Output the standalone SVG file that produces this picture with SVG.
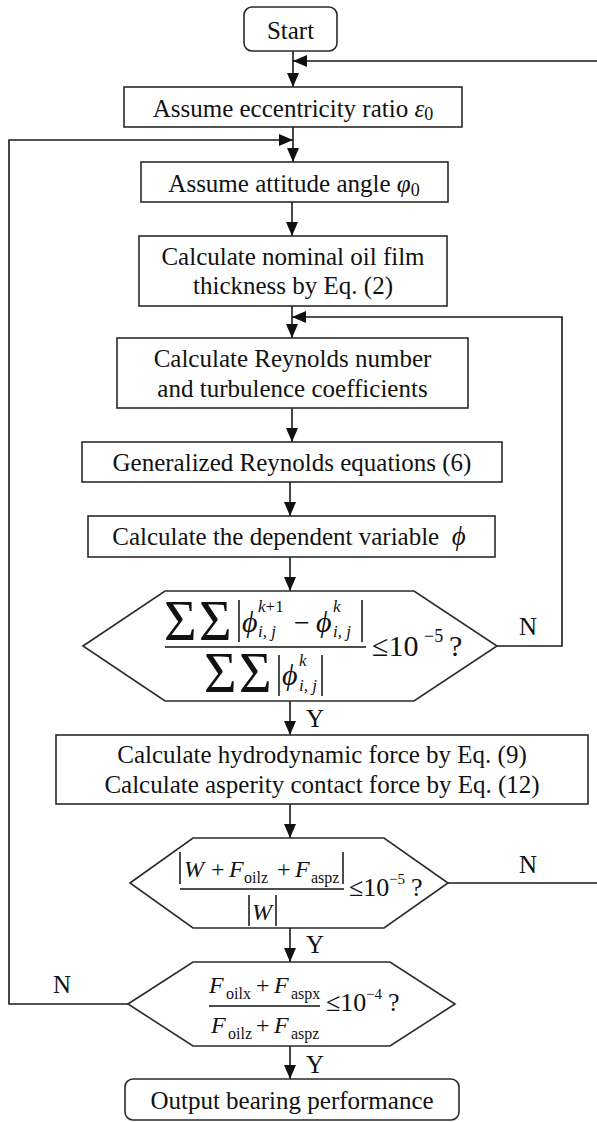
<svg xmlns="http://www.w3.org/2000/svg" width="597" height="1122" viewBox="0 0 597 1122">
<defs>
<marker id="arr" viewBox="0 0 14 12" refX="14" refY="6" markerWidth="14" markerHeight="12" orient="auto" markerUnits="userSpaceOnUse">
<path d="M0,0 L14,6 L0,12 z" fill="#111"/>
</marker>
</defs>
<style>
.box{fill:#fff;stroke:#2a2a2a;stroke-width:1.6}
.t{font-family:"Liberation Serif","Times New Roman",serif;font-size:25px;fill:#111}
.c{text-anchor:middle}
.i{font-style:italic}
.m{font-family:"Liberation Serif","Times New Roman",serif;fill:#111}
.ln{fill:none;stroke:#1a1a1a;stroke-width:1.6}
.bar{stroke:#111;stroke-width:1.5}
</style>
<rect width="597" height="1122" fill="#fff"/>

<g id="connectors">
<path class="ln" d="M293,51 V87" marker-end="url(#arr)"/>
<path class="ln" d="M448,883 H600 V61 H293" marker-end="url(#arr)"/>
<path class="ln" d="M293,127 V162" marker-end="url(#arr)"/>
<path class="ln" d="M128,1004 H9 V140 H293" marker-end="url(#arr)"/>
<path class="ln" d="M292,202 V236" marker-end="url(#arr)"/>
<path class="ln" d="M292,306 V338" marker-end="url(#arr)"/>
<path class="ln" d="M497,646 H562 V317 H292" marker-end="url(#arr)"/>
<path class="ln" d="M292,408 V442" marker-end="url(#arr)"/>
<path class="ln" d="M290,482 V516" marker-end="url(#arr)"/>
<path class="ln" d="M290,557 V591" marker-end="url(#arr)"/>
<path class="ln" d="M290,701 V735" marker-end="url(#arr)"/>
<path class="ln" d="M290,804 V838" marker-end="url(#arr)"/>
<path class="ln" d="M290,928 V962" marker-end="url(#arr)"/>
<path class="ln" d="M290,1046 V1079" marker-end="url(#arr)"/>
<text class="t" x="528" y="635" text-anchor="middle" font-size="24">N</text>
<text class="t" x="528" y="873" text-anchor="middle" font-size="24">N</text>
<text class="t" x="62" y="993" text-anchor="middle" font-size="24">N</text>
<text class="t" x="315" y="727" text-anchor="middle" font-size="24">Y</text>
<text class="t" x="315" y="953" text-anchor="middle" font-size="24">Y</text>
<text class="t" x="315" y="1073" text-anchor="middle" font-size="24">Y</text>
</g>

<g id="start">
<rect class="box" x="244" y="7" width="93" height="44" rx="8"/>
<text class="t c" x="290.5" y="39">Start</text>
</g>

<g id="eccentricity">
<rect class="box" x="124" y="87" width="338" height="40"/>
<text class="t c" x="293" y="117">Assume eccentricity ratio <tspan class="i">ε</tspan><tspan font-size="18" dy="3">0</tspan></text>
</g>

<g id="attitude">
<rect class="box" x="141" y="162" width="307" height="40"/>
<text class="t c" x="294" y="192">Assume attitude angle <tspan class="i">φ</tspan><tspan font-size="18" dy="4">0</tspan></text>
</g>

<g id="thickness">
<rect class="box" x="139" y="236" width="308" height="70"/>
<text class="t c" x="293" y="265">Calculate nominal oil film</text>
<text class="t c" x="293" y="294">thickness by Eq. (2)</text>
</g>

<g id="reynolds-number">
<rect class="box" x="117" y="338" width="351" height="70"/>
<text class="t c" x="292.5" y="367">Calculate Reynolds number</text>
<text class="t c" x="292.5" y="397">and turbulence coefficients</text>
</g>

<g id="reynolds-eq">
<rect class="box" x="82" y="442" width="420" height="40"/>
<text class="t c" x="292" y="471">Generalized Reynolds equations (6)</text>
</g>

<g id="dependent">
<rect class="box" x="88" y="516" width="407" height="41"/>
<text class="t c" x="289" y="545" xml:space="preserve">Calculate the dependent variable  <tspan class="i" font-size="27">ϕ</tspan></text>
</g>

<g id="check-phi">
<polygon class="box" points="83,646 165,591 414,591 497,646 414,701 165,701"/>
<text class="m" x="164" y="640" font-size="56">Σ</text>
<text class="m" x="199" y="640" font-size="56">Σ</text>
<line class="bar" x1="239" y1="600" x2="239" y2="642"/>
<text class="m i" x="242" y="632" font-size="30">ϕ</text>
<text class="m" x="258" y="612" font-size="17"><tspan class="i">k</tspan>+1</text>
<text class="m i" x="258" y="637" font-size="17">i, j</text>
<text class="m" x="294" y="632" font-size="28">−</text>
<text class="m i" x="316" y="632" font-size="30">ϕ</text>
<text class="m i" x="333" y="612" font-size="17">k</text>
<text class="m i" x="333" y="637" font-size="17">i, j</text>
<line class="bar" x1="362" y1="600" x2="362" y2="642"/>
<line class="bar" x1="165" y1="647" x2="366" y2="647"/>
<text class="m" x="204" y="692" font-size="56">Σ</text>
<text class="m" x="239" y="692" font-size="56">Σ</text>
<line class="bar" x1="279" y1="655" x2="279" y2="696"/>
<text class="m i" x="282" y="685" font-size="30">ϕ</text>
<text class="m i" x="299" y="666" font-size="17">k</text>
<text class="m i" x="299" y="691" font-size="17">i, j</text>
<line class="bar" x1="322" y1="655" x2="322" y2="696"/>
<text class="m" x="372" y="656" font-size="30">≤10</text>
<text class="m" x="424" y="642" font-size="18">−5</text>
<text class="m" x="449" y="656" font-size="30">?</text>
</g>

<g id="forces">
<rect class="box" x="56" y="735" width="532" height="69"/>
<text class="t c" x="322" y="763">Calculate hydrodynamic force by Eq. (9)</text>
<text class="t c" x="322" y="793">Calculate asperity contact force by Eq. (12)</text>
</g>

<g id="check-load">
<polygon class="box" points="130,883 193,838 384,838 448,883 384,928 193,928"/>
<line class="bar" x1="180" y1="852" x2="180" y2="884"/>
<text class="m i" x="184" y="877" font-size="24">W</text>
<text class="m" x="211" y="877" font-size="24">+</text>
<text class="m i" x="229" y="877" font-size="24">F</text>
<text class="m" x="244" y="883" font-size="16">oilz</text>
<text class="m" x="277" y="877" font-size="24">+</text>
<text class="m i" x="295" y="877" font-size="24">F</text>
<text class="m" x="311" y="883" font-size="16">aspz</text>
<line class="bar" x1="343" y1="852" x2="343" y2="884"/>
<line class="bar" x1="180" y1="889" x2="344" y2="889"/>
<line class="bar" x1="249" y1="895" x2="249" y2="926"/>
<text class="m i" x="252" y="920" font-size="24">W</text>
<line class="bar" x1="276" y1="895" x2="276" y2="926"/>
<text class="m" x="349" y="896" font-size="26">≤10</text>
<text class="m" x="389" y="884" font-size="15">−5</text>
<text class="m" x="411" y="896" font-size="26">?</text>
</g>

<g id="check-angle">
<polygon class="box" points="128,1004 193,962 390,962 455,1004 390,1046 193,1046"/>
<text class="m i" x="209" y="993" font-size="24">F</text>
<text class="m" x="226" y="999" font-size="16">oilx</text>
<text class="m" x="256" y="993" font-size="24">+</text>
<text class="m i" x="274" y="993" font-size="24">F</text>
<text class="m" x="291" y="999" font-size="16">aspx</text>
<line class="bar" x1="209" y1="1006" x2="320" y2="1006"/>
<text class="m i" x="211" y="1033" font-size="24">F</text>
<text class="m" x="228" y="1039" font-size="16">oilz</text>
<text class="m" x="256" y="1033" font-size="24">+</text>
<text class="m i" x="274" y="1033" font-size="24">F</text>
<text class="m" x="291" y="1039" font-size="16">aspz</text>
<text class="m" x="326" y="1011" font-size="26">≤10</text>
<text class="m" x="366" y="999" font-size="15">−4</text>
<text class="m" x="388" y="1011" font-size="26">?</text>
</g>

<g id="output">
<rect class="box" x="125" y="1079" width="334" height="41" rx="8"/>
<text class="t c" x="292" y="1109">Output bearing performance</text>
</g>
</svg>
